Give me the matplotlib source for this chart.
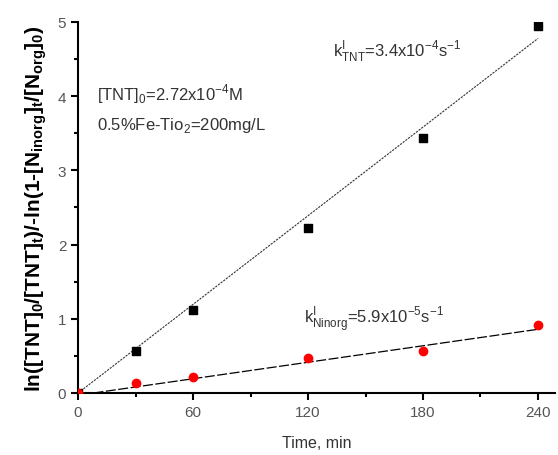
import matplotlib
matplotlib.use("Agg")
import matplotlib.pyplot as plt
import numpy as np

# data
time_min = [0, 30, 60, 120, 180, 240]
tnt_vals = [0.0, 0.57, 1.12, 2.22, 3.43, 4.95]
ninorg_vals = [0.0, 0.13, 0.22, 0.47, 0.57, 0.91]

# linear fits drawn on the chart
tnt_fit_slope = 0.0199
ninorg_fit_slope = 0.00370
ninorg_fit_icpt = -0.03

plt.rcParams['font.family'] = ['Liberation Sans', 'DejaVu Sans']
plt.rcParams['mathtext.fontset'] = 'custom'
plt.rcParams['mathtext.rm'] = 'Liberation Sans'
plt.rcParams['mathtext.bf'] = 'Liberation Sans:bold'

fig = plt.figure(figsize=(5.58, 4.56), dpi=100)
ax = fig.add_axes([0.14, 0.136, 0.855, 0.814])

t_line = np.array([0, 240])
ax.plot(t_line, tnt_fit_slope * t_line, color='#333333', lw=0.8, ls=(0, (2, 1)))
t2 = np.array([8, 240])
ax.plot(t2, ninorg_fit_icpt + ninorg_fit_slope * t2, color='black', lw=0.9, ls=(0, (8, 2)))

ax.scatter(time_min, tnt_vals, marker='s', s=28, color='black', zorder=3)
ax.scatter(time_min, ninorg_vals, marker='o', s=36, color='red', zorder=4)

ax.set_xlim(0, 249)
ax.set_ylim(0, 5)
ax.set_xticks([0, 60, 120, 180, 240])
ax.set_xticks([30, 90, 150, 210], minor=True)
ax.set_yticks([0, 1, 2, 3, 4, 5])
ax.set_yticks(np.arange(0.5, 5, 1), minor=True)
ax.tick_params(which='major', direction='out', length=5, width=1.5, labelsize=11, labelcolor='#555555')
ax.tick_params(which='minor', direction='out', length=3, width=1.5)

for s in ['top', 'right']:
    ax.spines[s].set_visible(False)
for s in ['left', 'bottom']:
    ax.spines[s].set_linewidth(1.5)

ax.set_xlabel('Time, min', fontsize=11.5, color='#333333', labelpad=12)
ax.set_ylabel(r'ln([TNT]$_\mathbf{0}$/[TNT]$_\mathbf{t}$)/-ln(1-[N$_\mathbf{inorg}$]$_\mathbf{t}$/[N$_\mathbf{org}$]$_\mathbf{0}$)',
              fontsize=15, fontweight='bold', labelpad=6)

ax.text(133, 4.55, r'k$^\mathrm{I}_\mathrm{TNT}$=3.4x10$^\mathrm{-4}$s$^\mathrm{-1}$', fontsize=12, color='#333333')
ax.text(10, 3.95, r'[TNT]$_\mathrm{0}$=2.72x10$^\mathrm{-4}$M', fontsize=12, color='#333333')
ax.text(10, 3.55, r'0.5%Fe-Tio$_\mathrm{2}$=200mg/L', fontsize=12, color='#333333')
ax.text(118, 0.95, r'k$^\mathrm{I}_\mathrm{Ninorg}$=5.9x10$^\mathrm{-5}$s$^\mathrm{-1}$', fontsize=12, color='#333333')

fig.savefig('out.png', dpi=100)
